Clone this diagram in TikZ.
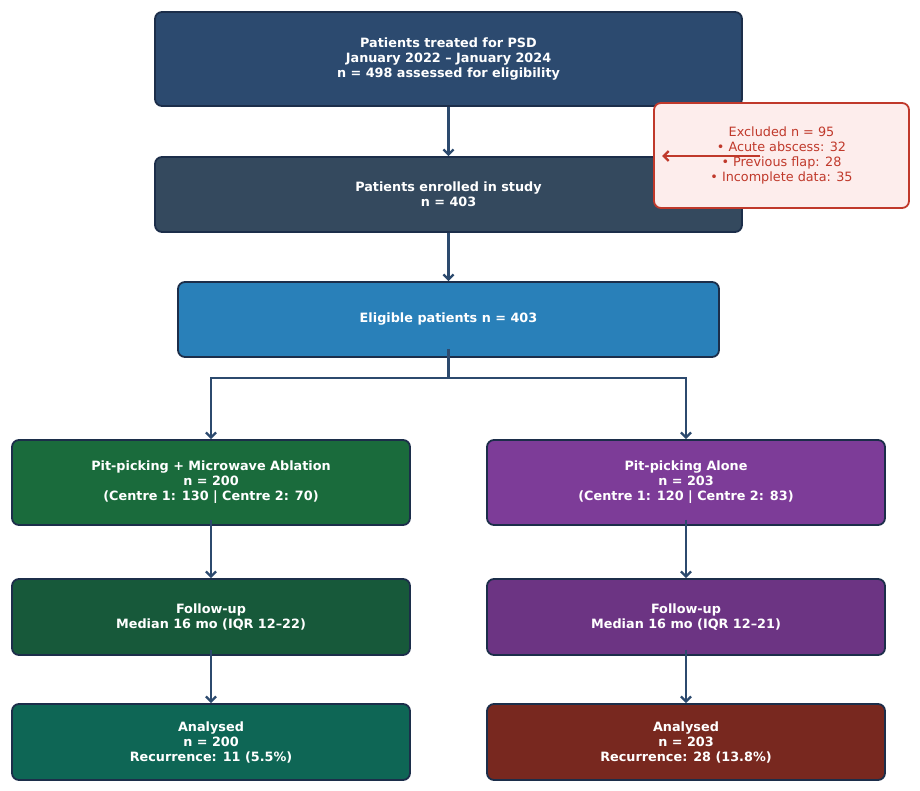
\documentclass[tikz,border=0pt]{standalone}
\usepackage{fontspec}
\setmainfont{DejaVu Sans}
\usetikzlibrary{arrows.meta}
\definecolor{edgeC}{HTML}{1C2E4A}
\definecolor{flowC}{HTML}{2C4A6E}
\definecolor{treatC}{HTML}{2C4A6F}
\definecolor{enrolC}{HTML}{34495E}
\definecolor{eligC}{HTML}{2980B9}
\definecolor{mwaC}{HTML}{1A6B3C}
\definecolor{ppC}{HTML}{7D3C98}
\definecolor{fuaC}{HTML}{17593A}
\definecolor{fubC}{HTML}{6C3483}
\definecolor{anaC}{HTML}{0E6655}
\definecolor{anbC}{HTML}{78281F}
\definecolor{exclC}{HTML}{C0392B}
\definecolor{exclF}{HTML}{FDEDEC}
\tikzset{
	stepbox/.style={
		draw=edgeC, line width=1.8pt, rounded corners=7pt,
		text=white, align=center, inner sep=0pt,
		font={\fontsize{12.8}{15}\selectfont\bfseries}
	},
	exclbox/.style={
		draw=exclC, fill=exclF, line width=1.8pt, rounded corners=7pt,
		text=exclC, align=center, inner sep=0pt,
		font={\fontsize{12.8}{15}\selectfont},
		minimum width=255pt, minimum height=105pt
	},
	wide/.style={minimum width=587pt},
	col/.style={minimum width=398pt},
	flow/.style={draw=flowC, line width=2.3pt, -{Straight Barb[length=5pt,width=10pt]}},
	>=stealth,
}
\begin{document}
\begin{tikzpicture}[x=1pt, y=-1pt]
\useasboundingbox (0,0) rectangle (920,791);
% top of the chart
\node [stepbox, wide, minimum height=94pt, fill=treatC] (treated) at (448.5,59)
	{Patients treated for PSD\\January 2022 – January 2024\\n = 498 assessed for eligibility};
\node [stepbox, wide, minimum height=75pt, fill=enrolC] (enrolled) at (448.5,194.5)
	{Patients enrolled in study\\n = 403};
\node [stepbox, minimum width=541pt, minimum height=75pt, fill=eligC] (eligible) at (448.5,319.5)
	{Eligible patients n = 403};
\node [exclbox] (excl) at (781.5,155.5)
	{Excluded n = 95\\• Acute abscess: 32\\• Previous flap: 28\\• Incomplete data: 35};
% two arms
\node [stepbox, col, minimum height=85pt, fill=mwaC] (mwa) at (211,482.5)
	{Pit-picking + Microwave Ablation\\n = 200\\(Centre 1: 130 | Centre 2: 70)};
\node [stepbox, col, minimum height=85pt, fill=ppC] (pp) at (686,482.5)
	{Pit-picking Alone\\n = 203\\(Centre 1: 120 | Centre 2: 83)};
\node [stepbox, col, minimum height=76pt, fill=fuaC] (fuA) at (211,617)
	{Follow-up\\Median 16 mo (IQR 12–22)};
\node [stepbox, col, minimum height=76pt, fill=fubC] (fuB) at (686,617)
	{Follow-up\\Median 16 mo (IQR 12–21)};
\node [stepbox, col, minimum height=76pt, fill=anaC] (anA) at (211,742)
	{Analysed\\n = 200\\Recurrence: 11 (5.5\%)};
\node [stepbox, col, minimum height=76pt, fill=anbC] (anB) at (686,742)
	{Analysed\\n = 203\\Recurrence: 28 (13.8\%)};
\coordinate (split) at (448.5,378);
\coordinate (exclTail) at (760,156);
\coordinate (exclHead) at (662,156);
\draw [flow] (treated) -- (enrolled);
\draw [flow] (enrolled) -- (eligible);
\draw [flow, -] ([yshift=9pt]eligible.south) -- (split);
\draw [flow] (split) -| (mwa.north);
\draw [flow] (split) -| (pp.north);
\draw [flow] ([yshift=6pt]mwa.south) -- (fuA.north);
\draw [flow] ([yshift=6pt]pp.south) -- (fuB.north);
\draw [flow] ([yshift=6pt]fuA.south) -- (anA.north);
\draw [flow] ([yshift=6pt]fuB.south) -- (anB.north);
\draw [flow, draw=exclC] (exclTail) -- (exclHead);
\end{tikzpicture}
\end{document}
